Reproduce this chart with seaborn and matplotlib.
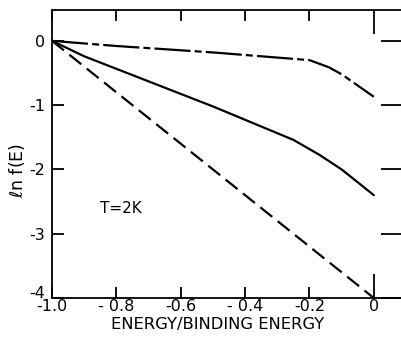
import matplotlib
matplotlib.use("Agg")
import matplotlib.pyplot as plt
import matplotlib.transforms as mtransforms
import seaborn as sns
import pandas as pd

# ---- data ----
x_dashdot = [-1.0, -0.8, -0.5, -0.2, -0.14, -0.1, 0.0]
y_dashdot = [0.0, -0.08, -0.18, -0.30, -0.41, -0.52, -0.87]

x_solid = [-1.0, -0.9, -0.7, -0.5, -0.25, -0.17, -0.1, 0.0]
y_solid = [0.0, -0.24, -0.63, -1.02, -1.54, -1.77, -2.0, -2.40]

x_dashed = [-1.0, 0.0]
y_dashed = [0.0, -4.0]

x_ticks = [-1.0, -0.8, -0.6, -0.4, -0.2, 0.0]
x_ticklabels = ["-1.0", "- 0.8", "-0.6", "- 0.4", "-0.2", "0"]
y_ticks = [0, -1, -2, -3, -4]
y_ticklabels = ["0", "-1", "-2", "-3", "-4"]

sns.set_theme(style="white")
plt.rcParams["font.family"] = ["DejaVu Sans"]
plt.rcParams["lines.scale_dashes"] = False

W, H = 401, 337
fig = plt.figure(figsize=(W / 100, H / 100), dpi=100)
left_px, right_px, top_px, bottom_px = 52, 406, 10, 298
ax = fig.add_axes([left_px / W, 1 - bottom_px / H,
                   (right_px - left_px) / W, (bottom_px - top_px) / H])

df_dd = pd.DataFrame({"x": x_dashdot, "y": y_dashdot})
df_s = pd.DataFrame({"x": x_solid, "y": y_solid})
df_d = pd.DataFrame({"x": x_dashed, "y": y_dashed})

sns.lineplot(data=df_dd, x="x", y="y", ax=ax, color="black", lw=1.6,
             linestyle=(0, (26, 3, 5, 3)), sort=False)
sns.lineplot(data=df_s, x="x", y="y", ax=ax, color="black", lw=1.6, sort=False)
sns.lineplot(data=df_d, x="x", y="y", ax=ax, color="black", lw=1.6,
             linestyle=(0, (11, 5)), sort=False)

ax.set_xlim(-1.0, 0.1)
ax.set_ylim(-4.0, 0.48)

ax.set_xticks(x_ticks)
ax.set_xticklabels(x_ticklabels)
ax.set_yticks(y_ticks)
ax.set_yticklabels(y_ticklabels)

for sp in ["left", "bottom", "top"]:
    ax.spines[sp].set_visible(True)
    ax.spines[sp].set_color("black")
    ax.spines[sp].set_linewidth(1.3)
ax.spines["right"].set_visible(False)

ax.tick_params(axis="x", direction="in", top=True, bottom=True, length=8,
               width=1.3, color="black", labelsize=11.5, pad=1, labelcolor="black")
ax.tick_params(axis="y", direction="in", left=True, right=True, length=8.5,
               width=1.3, color="black", labelsize=11.5, pad=5, labelcolor="black")

# longer ticks at x = 0
xt = ax.xaxis.get_major_ticks()
xt[-1].tick1line.set_markersize(17)
xt[-1].tick2line.set_markersize(17)
# right-side y ticks longer (spine off-figure)
for t in ax.yaxis.get_major_ticks():
    t.tick2line.set_markersize(18)

# nudge the "-4" label upward
lbl = ax.get_yticklabels()[-1]
lbl.set_transform(lbl.get_transform() + mtransforms.ScaledTranslation(0, 6 / 100, fig.dpi_scale_trans))

ax.set_xlabel("")
ax.set_ylabel("")
fig.text(218 / W, 1 - 325 / H, "ENERGY/BINDING ENERGY", ha="center", va="center",
         fontsize=11.8, color="black")
fig.text(17 / W, 1 - 170 / H, r"$\ell$n f(E)", ha="center", va="center",
         rotation=90, fontsize=12.5, color="black")
ax.text(-0.85, -2.6, "T=2K", ha="left", va="center", fontsize=11, color="black")

fig.savefig("out.png", dpi=100)
